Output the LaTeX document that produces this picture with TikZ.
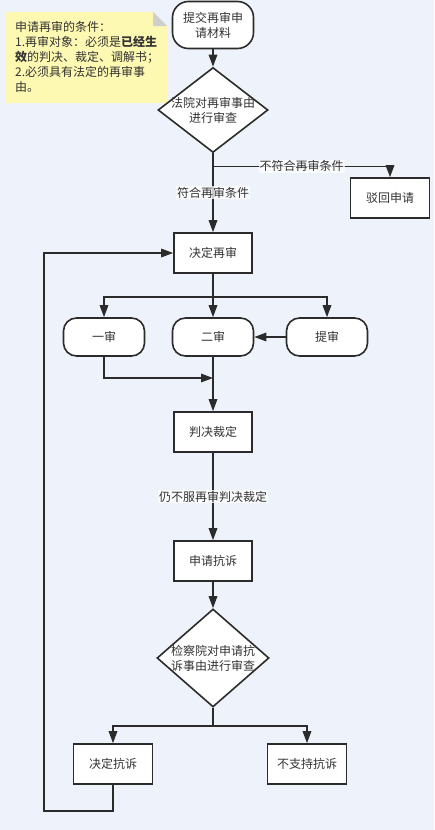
\documentclass[tikz,border=0pt]{standalone}
\usepackage{fontspec}
\setmainfont{Noto Sans CJK SC}
\usetikzlibrary{shapes.geometric,arrows.meta}
\definecolor{bgc}{HTML}{EEF3FB}
\definecolor{linec}{HTML}{2B2B2B}
\definecolor{txtc}{HTML}{333333}
\definecolor{notec}{HTML}{FDF9B2}
\definecolor{foldc}{HTML}{CFCFCF}
\begin{document}
\begin{tikzpicture}[x=1pt,y=-1pt,
  every node/.style={font=\fontsize{12pt}{15pt}\selectfont, text=txtc},
  box/.style={draw=linec, line width=1.6pt, fill=white, minimum width=78pt, minimum height=40pt, inner sep=0pt},
  rbox/.style={draw=linec, line width=1.6pt, fill=white, minimum width=81pt, minimum height=38pt, rounded corners=13pt, inner sep=0pt},
  dia/.style={draw=linec, line width=1.6pt, fill=white, diamond, inner sep=0pt},
  arr/.style={draw=linec, line width=1.6pt, -{Triangle[length=12pt,width=8.5pt]}},
  ln/.style={draw=linec, line width=1.6pt},
  lbl/.style={fill=white, fill opacity=0.75, text opacity=1, inner sep=1pt}]
\useasboundingbox (0,0) rectangle (434,830);
\fill[bgc] (0,0) rectangle (434,830);
% note
\fill[notec] (5,12) -- (153,12) -- (167,26) -- (167,103) -- (5,103) -- cycle;
\fill[foldc] (153,12) -- (153,26) -- (167,26) -- cycle;
\node[anchor=north west, align=left, inner sep=0pt] (note) at (15,21)
  {申请再审的条件：\\1.再审对象：必须是\textbf{已经生}\\\textbf{效}的判决、裁定、调解书；\\2.必须具有法定的再审事\\由。};
% nodes
\node[rbox, minimum height=47pt, rounded corners=16pt, align=center] (submit) at (213,25) {提交再审申\\请材料};
\node[dia, minimum width=110pt, minimum height=85pt] (d1) at (213,110) {};
\node[align=center, inner sep=0pt] (d1t) at (213,110) {法院对再审事由\\进行审查};
\node[box, minimum width=79pt] (reject) at (390,198) {驳回申请};
\node[box] (decide) at (213,253) {决定再审};
\node[rbox] (y1) at (104,337) {一审};
\node[rbox] (y2) at (213,337) {二审};
\node[rbox] (ti) at (327,337) {提审};
\coordinate (j1) at (213,378);
\node[box] (judge) at (213,432) {判决裁定};
\node[box] (appeal) at (213,561) {申请抗诉};
\node[dia, minimum width=112pt, minimum height=98pt] (d2) at (213,658) {};
\node[align=center, inner sep=0pt] (d2t) at (213,658) {检察院对申请抗\\诉事由进行审查};
\node[box, minimum width=79pt] (da) at (113,764) {决定抗诉};
\node[box, minimum width=79pt] (nd) at (307,764) {不支持抗诉};
\coordinate (loopc) at (44,811);
% connectors
\draw[arr] (submit) -- (d1);
\draw[arr] (d1.south) -- ++(0,13) -| node[pos=0.25, lbl] {不符合再审条件} (reject.north);
\draw[arr] (d1.south) -- node[pos=0.5, lbl] {符合再审条件} (decide.north);
\draw[arr] (decide.south) -- ++(0,23) -| (y1.north);
\draw[arr] (decide.south) -- ++(0,23) -| (ti.north);
\draw[arr] (decide) -- (y2);
\draw[arr] (ti) -- (y2);
\draw[arr] (y1.south) |- (j1);
\draw[arr] (y2) -- (judge);
\draw[arr] (judge) -- node[pos=0.5, lbl] {仍不服再审判决裁定} (appeal);
\draw[arr] (appeal) -- (d2);
\draw[arr] (d2.south) -- ++(0,18) -| (da.north);
\draw[arr] (d2.south) -- ++(0,18) -| (nd.north);
\draw[arr] (da.south) |- (loopc) |- (decide.west);
\end{tikzpicture}
\end{document}
